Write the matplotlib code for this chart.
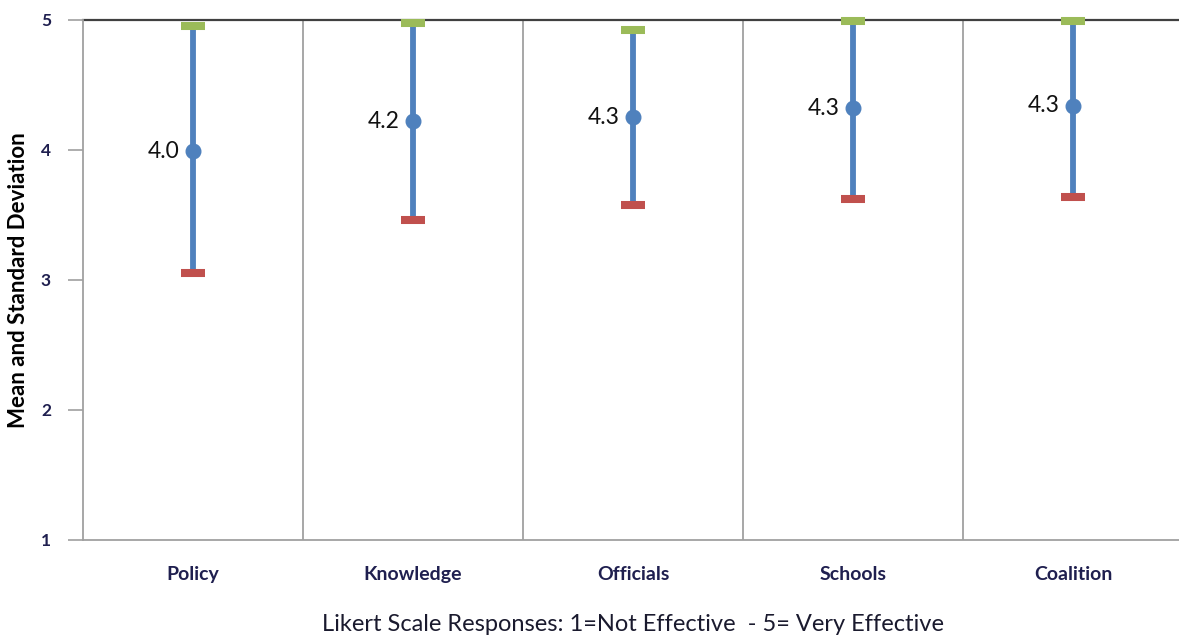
import numpy as np
import matplotlib.pyplot as plt

plt.rcParams['font.family'] = ['Lato', 'DejaVu Sans']

categories = ['Policy', 'Knowledge', 'Officials', 'Schools', 'Coalition']
means = [3.99, 4.22, 4.25, 4.32, 4.34]
upper = [4.95, 4.98, 4.92, 4.99, 4.99]   # mean + SD
lower = [3.05, 3.46, 3.58, 3.62, 3.64]   # mean - SD
mean_labels = ['4.0', '4.2', '4.3', '4.3', '4.3']

blue = '#4F81BD'
green = '#9BBB59'
red = '#C0504D'
navy = '#1F1F4F'

fig = plt.figure(figsize=(11.79, 6.39), dpi=100)
ax = fig.add_axes([0.0704, 0.155, 0.933, 0.8138])

x = np.arange(len(categories))

# category separators and top line
for b in x[1:] - 0.5:
    ax.axvline(b, color='#A0A0A0', lw=1.3, zorder=1)
ax.axhline(5, color='#404040', lw=1.6, zorder=1, clip_on=False)

# SD range lines
ax.vlines(x, lower, upper, color=blue, lw=4.2, zorder=2)
ax.plot(x, upper, ls='none', marker='_', ms=17, mew=5.8, color=green,
        zorder=3, clip_on=False)
ax.plot(x, lower, ls='none', marker='_', ms=17, mew=5.8, color=red, zorder=3)
ax.plot(x, means, ls='none', marker='o', ms=10.5, color=blue, zorder=4)

for xi, m, lab in zip(x, means, mean_labels):
    ax.annotate(lab, (xi, m), xytext=(-10, 0), textcoords='offset points',
                ha='right', va='center', fontsize=16.5, color='#111111')

ax.set_xlim(-0.5, len(categories) - 0.5)
ax.set_ylim(1, 5)
ax.set_yticks([1, 2, 3, 4, 5])
ax.set_xticks(x)
ax.set_xticklabels(categories, fontsize=14, fontweight='bold', color=navy)
ax.tick_params(axis='x', length=0, pad=19)
ax.tick_params(axis='y', length=11, width=1.2, color='#A0A0A0', pad=12,
               labelsize=12.5)
for t in ax.get_yticklabels():
    t.set_fontweight('bold')
    t.set_color(navy)

for s in ['top', 'right']:
    ax.spines[s].set_visible(False)
ax.spines['left'].set_color('#A0A0A0')
ax.spines['bottom'].set_color('#A0A0A0')
ax.spines['left'].set_linewidth(1.3)
ax.spines['bottom'].set_linewidth(1.3)

ax.set_ylabel('Mean and Standard Deviation', fontsize=16, fontweight='bold',
              color='black')
ax.yaxis.set_label_coords(-0.059, 0.5)
ax.yaxis.label.set_va('center')
ax.set_xlabel('Likert Scale Responses: 1=Not Effective  - 5= Very Effective',
              fontsize=17, color='#1a1a2e')
ax.xaxis.set_label_coords(0.5, -0.1635)
ax.xaxis.label.set_va('center')

fig.savefig('out.png', dpi=100)
